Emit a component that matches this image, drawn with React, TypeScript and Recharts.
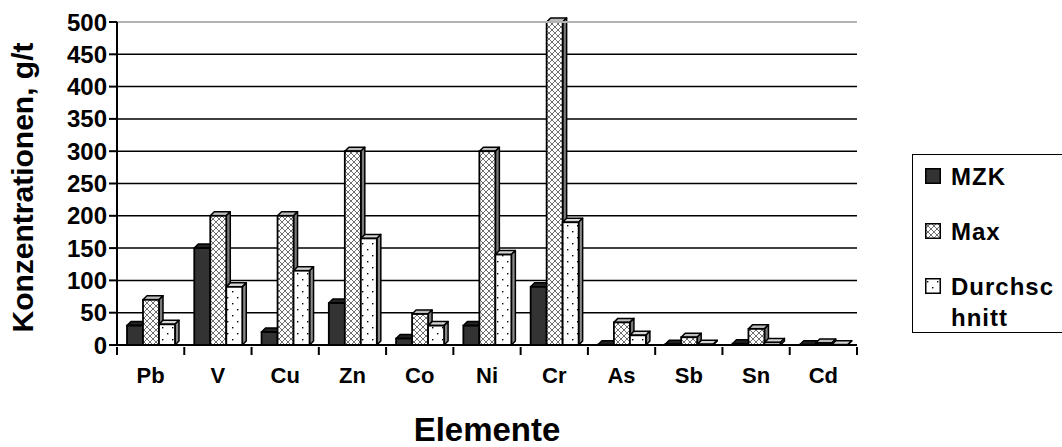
import { Bar, BarChart, CartesianGrid, Legend, ReferenceLine, XAxis, YAxis } from 'recharts';

const elements = ['Pb', 'V', 'Cu', 'Zn', 'Co', 'Ni', 'Cr', 'As', 'Sb', 'Sn', 'Cd'];
const mzkValues = [30, 150, 20, 65, 10, 30, 90, 0.5, 1, 2, 0.5];
const maxValues = [70, 200, 200, 300, 48, 300, 500, 35, 12, 25, 3];
const averageValues = [32, 90, 115, 165, 30, 140, 190, 15, 1, 4, 0.5];
const yTicks = [0, 50, 100, 150, 200, 250, 300, 350, 400, 450, 500];

const data = elements.map((element, i) => ({
  element,
  mzk: mzkValues[i],
  max: maxValues[i],
  avg: averageValues[i],
}));

const FONT = '"Liberation Sans", Arial, sans-serif';
const DEPTH = 4;

const series = [
  { key: 'mzk', name: 'MZK', fill: '#333333', top: '#222222', side: '#111111' },
  { key: 'max', name: 'Max', fill: 'url(#cross)', top: '#bdbdbd', side: '#7a7a7a' },
  { key: 'avg', name: 'Durchschnitt', fill: 'url(#dots)', top: '#d6d6d6', side: '#8a8a8a' },
];

// front face + top + right side, like the old 3d column look
const make3DBar = (fill: string, topFill: string, sideFill: string) => (props: any) => {
  const { x, y, width, height } = props;
  if (x == null || width == null) return null;
  const d = DEPTH;
  return (
    <g>
      <polygon
        points={`${x},${y} ${x + d},${y - d} ${x + width + d},${y - d} ${x + width},${y}`}
        fill={topFill}
        stroke="#000"
        strokeWidth={1.5}
        strokeLinejoin="round"
      />
      <polygon
        points={`${x + width},${y} ${x + width + d},${y - d} ${x + width + d},${y + height - d} ${x + width},${y + height}`}
        fill={sideFill}
        stroke="#000"
        strokeWidth={1.5}
        strokeLinejoin="round"
      />
      <rect x={x} y={y} width={width} height={height} fill={fill} stroke="#000" strokeWidth={1.8} />
    </g>
  );
};

const CategoryTick = (props: any) => {
  const { x, y, payload, index } = props;
  const half = payload?.offset ?? 33.6;
  return (
    <g>
      <line x1={x + half} y1={y} x2={x + half} y2={y + 8} stroke="#000" strokeWidth={2} />
      {index === 0 && <line x1={x - half} y1={y} x2={x - half} y2={y + 8} stroke="#000" strokeWidth={2} />}
      <text x={x} y={y + 36} textAnchor="middle" fill="#000" fontSize={22} fontWeight="bold" fontFamily={FONT}>
        {payload.value}
      </text>
    </g>
  );
};

const Swatch = ({ fill }: { fill: string }) => (
  <svg width={16} height={16} style={{ marginTop: 7, marginRight: 10, flex: 'none' }}>
    <rect x={0.75} y={0.75} width={14.5} height={14.5} fill={fill} stroke="#000" strokeWidth={1.5} />
  </svg>
);

const LegendBox = () => (
  <div
    style={{
      width: 175,
      height: 179,
      boxSizing: 'border-box',
      border: '1.5px solid #000',
      background: '#fff',
      paddingTop: 6,
      paddingLeft: 12,
      fontFamily: FONT,
      fontWeight: 'bold',
      fontSize: 24,
      letterSpacing: 1,
      color: '#000',
    }}
  >
    {series.map((s) => (
      <div key={s.key} style={{ display: 'flex', alignItems: 'flex-start', height: 55, lineHeight: '31px' }}>
        <Swatch fill={s.fill} />
        <span style={{ width: 110, wordBreak: 'break-all' }}>{s.name}</span>
      </div>
    ))}
  </div>
);

export default function App() {
  return (
    <div
      style={{
        position: 'absolute',
        left: 0,
        top: 0,
        width: 1062,
        height: 447,
        overflow: 'hidden',
        background: '#fff',
        fontFamily: FONT,
      }}
    >
      <BarChart
        width={1062}
        height={447}
        data={data}
        margin={{ top: 22, right: 205, bottom: 0, left: 0 }}
        barSize={16}
        barGap={0}
      >
        <defs>
          <pattern id="cross" width="6" height="6" patternUnits="userSpaceOnUse">
            <rect width="6" height="6" fill="#fff" />
            <path d="M0,0 L6,6 M6,0 L0,6" stroke="#4a4a4a" strokeWidth="0.8" />
          </pattern>
          <pattern id="dots" width="10" height="12" patternUnits="userSpaceOnUse">
            <rect width="10" height="12" fill="#fff" />
            <rect x="2" y="3" width="1.4" height="1.4" fill="#000" />
            <rect x="7" y="9" width="1.4" height="1.4" fill="#000" />
          </pattern>
        </defs>
        <CartesianGrid vertical={false} stroke="#000" strokeWidth={1.5} />
        <ReferenceLine y={500} stroke="#b4b4b4" strokeWidth={2} />
        <XAxis
          dataKey="element"
          height={102}
          interval={0}
          tickLine={false}
          tickSize={0}
          axisLine={{ stroke: '#000', strokeWidth: 2 }}
          tick={<CategoryTick />}
          label={({ viewBox }: any) => (
            <text
              x={viewBox.x + viewBox.width / 2}
              y={viewBox.y + 96}
              textAnchor="middle"
              fill="#000"
              fontSize={33}
              fontWeight="bold"
              fontFamily={FONT}
            >
              Elemente
            </text>
          )}
        />
        <YAxis
          width={117}
          domain={[0, 500]}
          ticks={yTicks}
          interval={0}
          tickSize={8}
          tickLine={{ stroke: '#000', strokeWidth: 2 }}
          axisLine={{ stroke: '#000', strokeWidth: 2 }}
          tick={{ fill: '#000', fontSize: 24, fontWeight: 'bold', fontFamily: FONT }}
          label={({ viewBox }: any) => {
            const cy = viewBox.y + viewBox.height / 2 + 4;
            return (
              <text
                x={22}
                y={cy}
                transform={`rotate(-90, 22, ${cy})`}
                textAnchor="middle"
                dominantBaseline="central"
                fill="#000"
                fontSize={30}
                fontWeight="bold"
                fontFamily={FONT}
              >
                Konzentrationen, g/t
              </text>
            );
          }}
        />
        <Legend
          layout="horizontal"
          verticalAlign="middle"
          align="center"
          wrapperStyle={{ position: 'absolute', left: 912, top: 154, width: 175, height: 179 }}
          content={() => <LegendBox />}
        />
        {series.map((s) => (
          <Bar
            key={s.key}
            dataKey={s.key}
            name={s.name}
            fill={s.fill}
            shape={make3DBar(s.fill, s.top, s.side)}
            isAnimationActive={false}
          />
        ))}
      </BarChart>
    </div>
  );
}
